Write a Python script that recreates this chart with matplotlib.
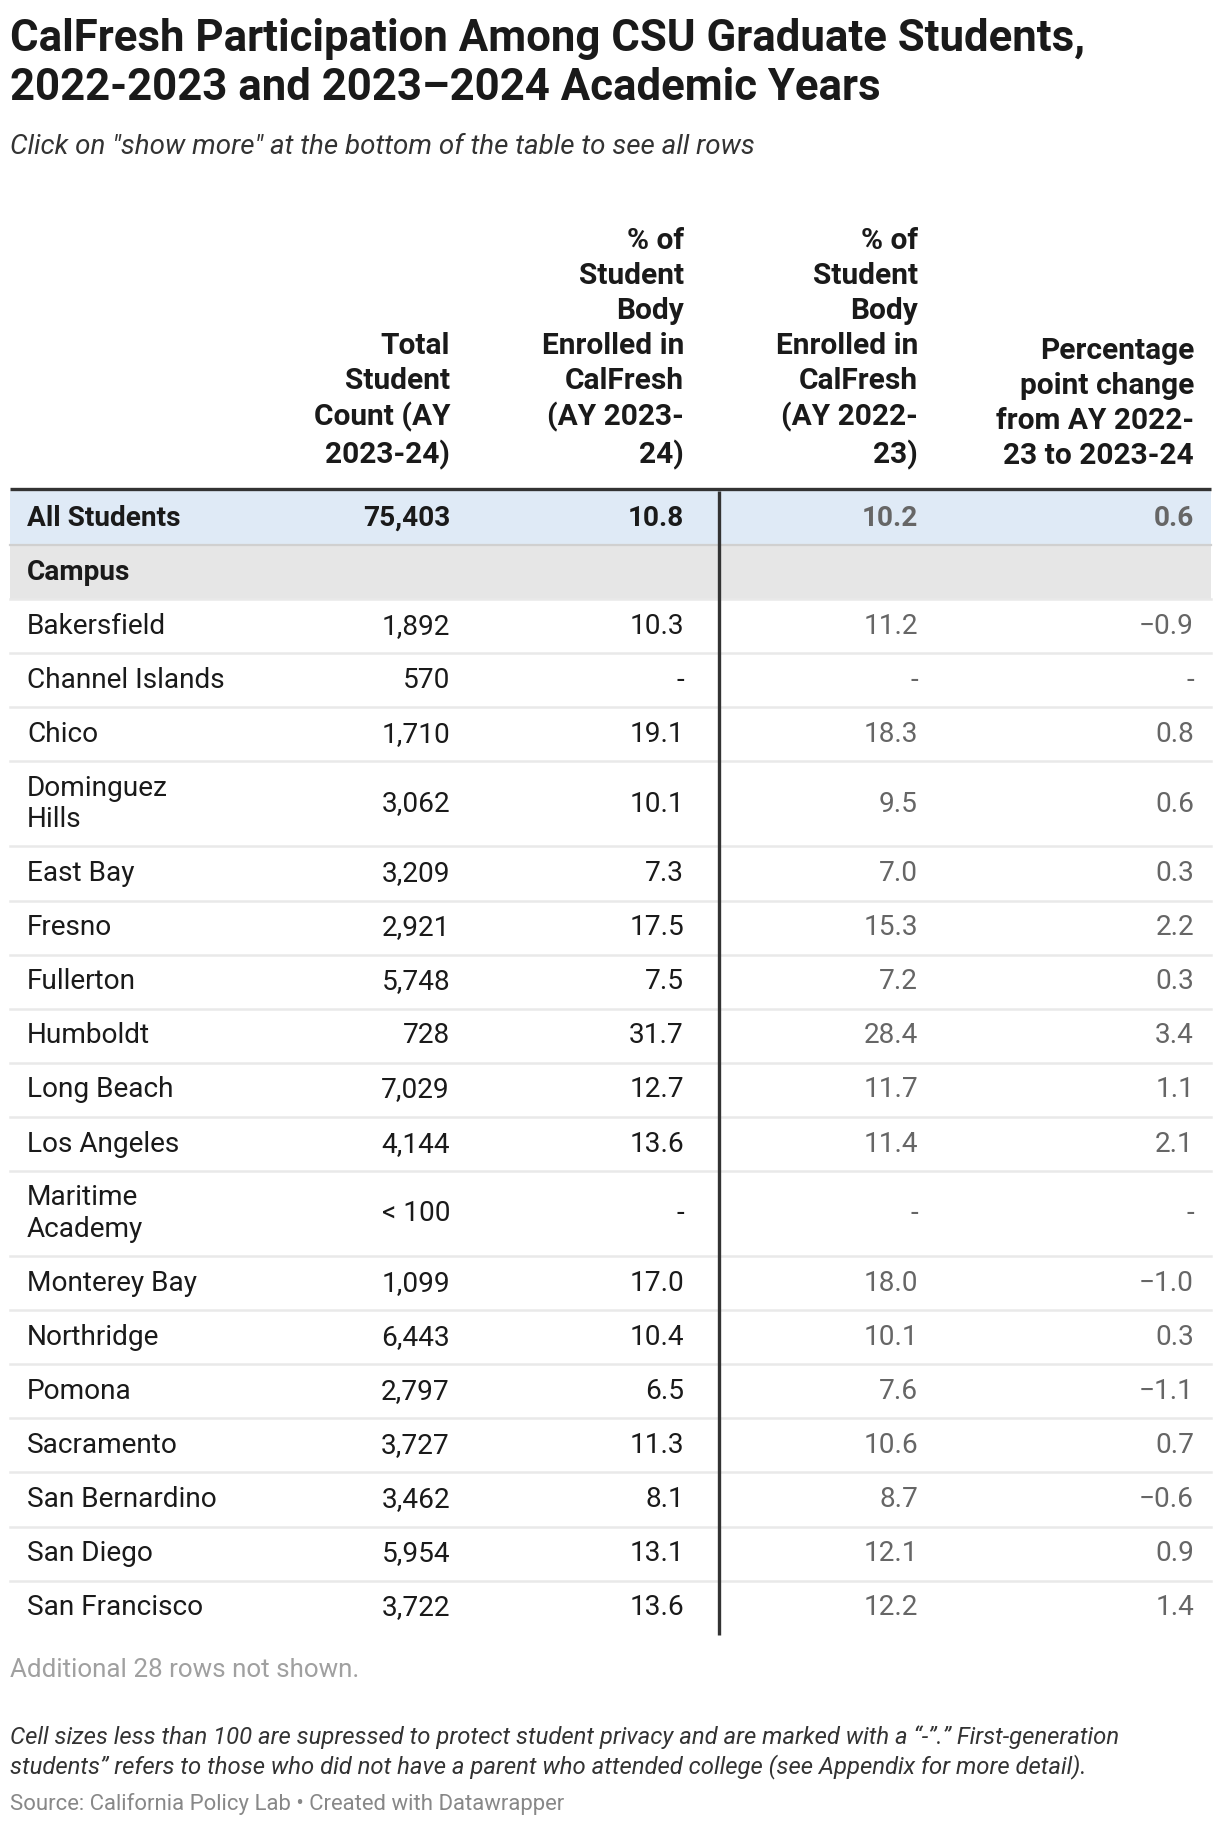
import matplotlib.pyplot as plt
from matplotlib.patches import Rectangle

# Table data
campuses = ['Bakersfield', 'Channel Islands', 'Chico', 'Dominguez\nHills', 'East Bay',
            'Fresno', 'Fullerton', 'Humboldt', 'Long Beach', 'Los Angeles',
            'Maritime\nAcademy', 'Monterey Bay', 'Northridge', 'Pomona', 'Sacramento',
            'San Bernardino', 'San Diego', 'San Francisco']
student_count = ['1,892', '570', '1,710', '3,062', '3,209', '2,921', '5,748', '728',
                 '7,029', '4,144', '< 100', '1,099', '6,443', '2,797', '3,727', '3,462',
                 '5,954', '3,722']
pct_2324 = ['10.3', '-', '19.1', '10.1', '7.3', '17.5', '7.5', '31.7', '12.7', '13.6',
            '-', '17.0', '10.4', '6.5', '11.3', '8.1', '13.1', '13.6']
pct_2223 = ['11.2', '-', '18.3', '9.5', '7.0', '15.3', '7.2', '28.4', '11.7', '11.4',
            '-', '18.0', '10.1', '7.6', '10.6', '8.7', '12.1', '12.2']
pp_change = ['\u22120.9', '-', '0.8', '0.6', '0.3', '2.2', '0.3', '3.4', '1.1', '2.1',
             '-', '\u22121.0', '0.3', '\u22121.1', '0.7', '\u22120.6', '0.9', '1.4']
all_students = ['All Students', '75,403', '10.8', '10.2', '0.6']
headers = ['Total\nStudent\nCount (AY\n2023-24)',
           '% of\nStudent\nBody\nEnrolled in\nCalFresh\n(AY 2023-\n24)',
           '% of\nStudent\nBody\nEnrolled in\nCalFresh\n(AY 2022-\n23)',
           'Percentage\npoint change\nfrom AY 2022-\n23 to 2023-24']

plt.rcParams['font.family'] = ['Roboto', 'DejaVu Sans']

W, H = 1220, 1826
fig = plt.figure(figsize=(W / 100, H / 100), dpi=100)
ax = fig.add_axes([0, 0, 1, 1])
ax.set_xlim(0, W)
ax.set_ylim(H, 0)
ax.axis('off')

BLACK = '#1a1a1a'
GREY_TXT = '#666666'
FS = 20.2    # body size (pt)
FS_HEAD = 21.5
LEFT = 10
RIGHT = 1211
TEXT_X = 27
COL_X = [450, 684, 918, 1194]
VLINE_X = 719

# Title and subtitle
ax.text(LEFT, 38.5, 'CalFresh Participation Among CSU Graduate Students,',
        fontsize=31.5, fontweight='bold', color='#1a1a1a', va='center', ha='left')
ax.text(LEFT, 88.5, '2022-2023 and 2023\u20132024 Academic Years',
        fontsize=31.5, fontweight='bold', color='#1a1a1a', va='center', ha='left')
ax.text(LEFT, 147, 'Click on "show more" at the bottom of the table to see all rows',
        fontsize=20, style='italic', color='#333333', va='center', ha='left')

# Header (bottom aligned)
for x, h in zip(COL_X, headers):
    ax.text(x, 470, h, fontsize=FS_HEAD, fontweight='bold', color=BLACK, ha='right',
            va='bottom', linespacing=1.32)

# Row geometry
single_h = 54.1
double_h = 85.0
top = 491
ax.plot([LEFT, RIGHT], [top - 1.5, top - 1.5], color='#333333', lw=2.4,
        solid_capstyle='butt')

y = top
# All Students row
ax.add_patch(Rectangle((LEFT, y), RIGHT - LEFT, single_h, color='#dfeaf6', lw=0))
yc = y + single_h / 2
for i, val in enumerate(all_students):
    x = TEXT_X if i == 0 else COL_X[i - 1]
    ax.text(x, yc, val, fontsize=FS, fontweight='bold',
            color=BLACK if i < 3 else GREY_TXT,
            ha='left' if i == 0 else 'right', va='center')
y += single_h
ax.plot([LEFT, RIGHT], [y, y], color='#d0d0d0', lw=1.6)

# Campus group row
ax.add_patch(Rectangle((LEFT, y), RIGHT - LEFT, single_h, color='#e6e6e6', lw=0))
ax.text(TEXT_X, y + single_h / 2, 'Campus', fontsize=FS, fontweight='bold',
        color=BLACK, ha='left', va='center')
y += single_h

for i, name in enumerate(campuses):
    rh = double_h if '\n' in name else single_h
    yc = y + rh / 2
    ax.plot([LEFT, RIGHT], [y, y], color='#e9e9e9', lw=1.8)
    ax.text(TEXT_X, yc, name, fontsize=FS, color=BLACK, ha='left', va='center',
            linespacing=1.22)
    vals = [student_count[i], pct_2324[i], pct_2223[i], pp_change[i]]
    for j, v in enumerate(vals):
        ax.text(COL_X[j], yc, v, fontsize=FS, color=BLACK if j < 2 else GREY_TXT,
                ha='right', va='center')
    y += rh

# Vertical separator
ax.plot([VLINE_X, VLINE_X], [top, y], color='#333333', lw=2.4, solid_capstyle='butt')

# Notes
ax.text(LEFT, 1670, 'Additional 28 rows not shown.', fontsize=18.7, color='#a0a0a0',
        va='center', ha='left')
ax.text(LEFT, 1752, 'Cell sizes less than 100 are supressed to protect student privacy '
        'and are marked with a \u201c-\u201d.\u201d First-generation\n'
        'students\u201d refers to those who did not have a parent who attended '
        'college (see Appendix for more detail).',
        fontsize=17.2, style='italic', color='#333333', va='center', ha='left',
        linespacing=1.27)
ax.text(LEFT, 1804, 'Source: California Policy Lab \u2022 Created with Datawrapper',
        fontsize=15.9, color='#888888', va='center', ha='left')

plt.savefig('out.png', dpi=100)
